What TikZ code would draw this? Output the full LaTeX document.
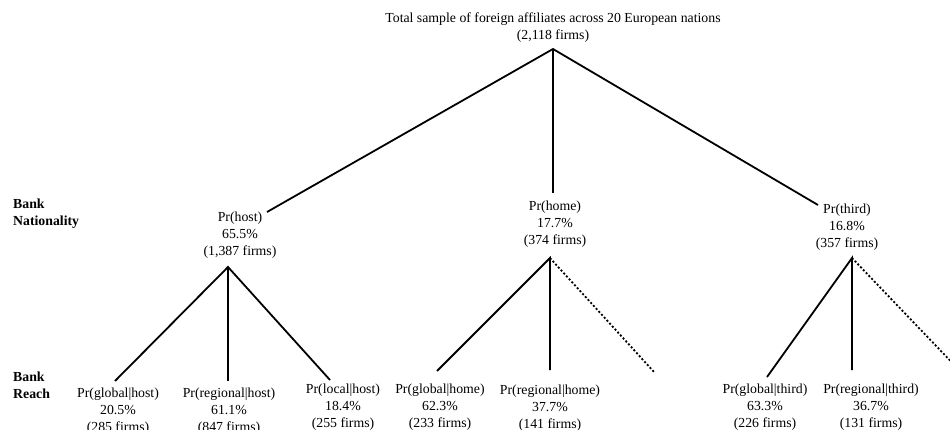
\documentclass[tikz,border=0pt]{standalone}
\usepackage{fontspec}
\setmainfont{Liberation Serif}
\begin{document}
\begin{tikzpicture}[x=1pt,y=-1pt,
  lbl/.style={align=center, font=\fontsize{13.8}{17}\selectfont, inner sep=0pt},
  side/.style={align=left, anchor=west, font=\fontsize{13.8}{17}\selectfont\bfseries, inner sep=0pt},
  br/.style={line width=1.8pt},
  dbr/.style={line width=1.8pt, dash pattern=on 2pt off 2pt}]
\useasboundingbox (0,0) rectangle (950,430);
\clip (0,0) rectangle (950,430);
% labels
\node[lbl] (root) at (553,28) {Total sample of foreign affiliates across 20 European nations\\(2,118 firms)};
\node[side] (natl) at (13,214) {Bank\\Nationality};
\node[side] (reach) at (13,385) {Bank\\Reach};
\node[lbl] (host) at (240,235) {Pr(host)\\65.5\%\\(1,387 firms)};
\node[lbl] (home) at (555,224) {Pr(home)\\17.7\%\\(374 firms)};
\node[lbl] (third) at (847,227) {Pr(third)\\16.8\%\\(357 firms)};
\node[lbl] (gh) at (118,411) {Pr(global|host)\\20.5\%\\(285 firms)};
\node[lbl] (rh) at (229,411) {Pr(regional|host)\\61.1\%\\(847 firms)};
\node[lbl] (lh) at (343,407) {Pr(local|host)\\18.4\%\\(255 firms)};
\node[lbl] (gho) at (440,407) {Pr(global|home)\\62.3\%\\(233 firms)};
\node[lbl] (rho) at (550,408) {Pr(regional|home)\\37.7\%\\(141 firms)};
\node[lbl] (gt) at (765,407) {Pr(global|third)\\63.3\%\\(226 firms)};
\node[lbl] (rt) at (871,407) {Pr(regional|third)\\36.7\%\\(131 firms)};
% branch points
\coordinate (r0) at (553,49);
\coordinate (rH) at (267,212);
\coordinate (rM) at (553,193);
\coordinate (rT) at (818,205);
\coordinate (h0) at (228,267);
\coordinate (hG) at (115,381);
\coordinate (hR) at (228,381);
\coordinate (hL) at (330,380);
\coordinate (m0) at (550,258);
\coordinate (mG) at (437,371);
\coordinate (mR) at (550,370);
\coordinate (mX) at (655,373);
\coordinate (t0) at (852,258);
\coordinate (tG) at (767,377);
\coordinate (tR) at (852,370);
\coordinate (tX) at (962,373);
% connectors
\draw[br] (rH) -- (r0) -- (rT);
\draw[br] (r0) -- (rM);
\draw[br] (hG) -- (h0) -- (hL);
\draw[br] (h0) -- (hR);
\draw[br] (mG) -- (m0) -- (mR);
\draw[dbr] (m0) -- (mX);
\draw[br] (tG) -- (t0) -- (tR);
\draw[dbr] (t0) -- (tX);
\end{tikzpicture}
\end{document}
